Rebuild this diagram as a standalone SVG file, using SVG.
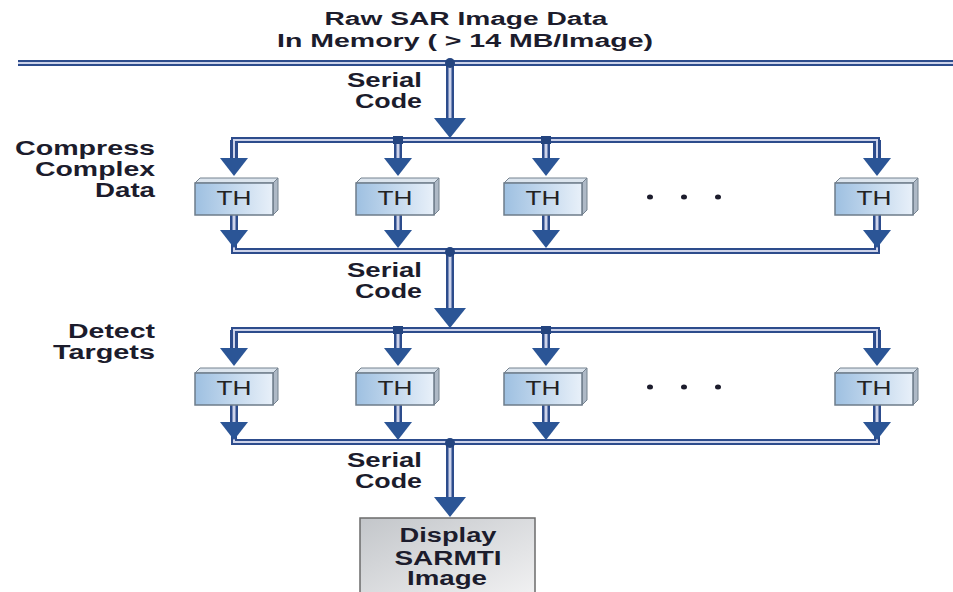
<svg xmlns="http://www.w3.org/2000/svg" xmlns:xlink="http://www.w3.org/1999/xlink" width="953" height="592" viewBox="0 0 953 592">
<style>
  .lbl { font-family: "Liberation Sans", Arial, sans-serif; font-weight: bold; font-size: 20px; fill: #1c1c2c; }
  .ttl { font-family: "Liberation Sans", Arial, sans-serif; font-weight: bold; font-size: 18px; fill: #1c1c2c; text-anchor: middle; }
  .th { font-family: "Liberation Sans", Arial, sans-serif; font-size: 20px; fill: #222; text-anchor: middle; }
  .busO { fill: none; stroke: #2d4c8c; stroke-width: 6; }
  .busI { fill: none; stroke: #cdd3ea; stroke-width: 2; }
  .shO { fill: none; stroke: #2d4c8c; stroke-width: 8; }
  .shI { fill: none; stroke: #cdd3ea; stroke-width: 3; }
  .head { fill: #2b5596; }
  .jn { fill: #24447f; }
  .dot { fill: #1c1c2c; }
</style>
<defs>
  <linearGradient id="thg" x1="0" y1="0" x2="1" y2="0">
    <stop offset="0" stop-color="#9ec0e1"/>
    <stop offset="1" stop-color="#e8f0f9"/>
  </linearGradient>
  <linearGradient id="dg" x1="0" y1="0" x2="1" y2="1">
    <stop offset="0" stop-color="#c3c6ca"/>
    <stop offset="1" stop-color="#f2f2f3"/>
  </linearGradient>
  <g id="thbox">
    <polygon points="0,0 5,-5 83,-5 78,0" fill="#dce5ee" stroke="#75828f" stroke-width="1"/>
    <polygon points="78,0 83,-5 83,27 78,32" fill="#aeb9c6" stroke="#75828f" stroke-width="1"/>
    <rect x="0" y="0" width="78" height="32" fill="url(#thg)" stroke="#6e7c8a" stroke-width="1.5"/>
  </g>
  <path id="hs" d="M-16,0 L16,0 L0,20 Z"/>
  <path id="hb" d="M-14,0 L14,0 L0,18 Z"/>
</defs>

<g id="title">
  <text class="ttl" x="466" y="25" textLength="283" lengthAdjust="spacingAndGlyphs">Raw SAR Image Data</text>
  <text class="ttl" x="465" y="47" textLength="376" lengthAdjust="spacingAndGlyphs">In Memory ( &gt; 14 MB/Image)</text>
</g>

<g id="connectors">
  <!-- main memory bus -->
  <line class="busO" x1="18" y1="63" x2="953" y2="63"/>
  <line class="busI" x1="18" y1="63" x2="953" y2="63"/>
  <!-- serial arrows -->
  <line class="shO" x1="450" y1="63" x2="450" y2="119"/>
  <line class="shI" x1="450" y1="66" x2="450" y2="119"/>
  <line class="shO" x1="450" y1="252" x2="450" y2="308"/>
  <line class="shI" x1="450" y1="255" x2="450" y2="308"/>
  <line class="shO" x1="450" y1="443" x2="450" y2="497"/>
  <line class="shI" x1="450" y1="446" x2="450" y2="497"/>

  <!-- row 1 buses -->
  <path class="busO" d="M234,159 V140 H877 V159"/>
  <path class="busO" d="M234,231 V251 H877 V231"/>
  <!-- row 2 buses -->
  <path class="busO" d="M234,349 V330 H877 V349"/>
  <path class="busO" d="M234,423 V442 H877 V423"/>
  <!-- branch shafts -->
  <g class="shO">
    <line x1="234" y1="140" x2="234" y2="159"/><line x1="398" y1="140" x2="398" y2="159"/><line x1="546" y1="140" x2="546" y2="159"/><line x1="877" y1="140" x2="877" y2="159"/>
    <line x1="234" y1="215" x2="234" y2="231"/><line x1="398" y1="215" x2="398" y2="231"/><line x1="546" y1="215" x2="546" y2="231"/><line x1="877" y1="215" x2="877" y2="231"/>
    <line x1="234" y1="330" x2="234" y2="349"/><line x1="398" y1="330" x2="398" y2="349"/><line x1="546" y1="330" x2="546" y2="349"/><line x1="877" y1="330" x2="877" y2="349"/>
    <line x1="234" y1="405" x2="234" y2="423"/><line x1="398" y1="405" x2="398" y2="423"/><line x1="546" y1="405" x2="546" y2="423"/><line x1="877" y1="405" x2="877" y2="423"/>
  </g>
  <path class="busI" d="M234,159 V140 H877 V159"/>
  <path class="busI" d="M234,231 V251 H877 V231"/>
  <path class="busI" d="M234,349 V330 H877 V349"/>
  <path class="busI" d="M234,423 V442 H877 V423"/>
  <g class="shI">
    <line x1="398" y1="142" x2="398" y2="159"/><line x1="546" y1="142" x2="546" y2="159"/>
    <line x1="234" y1="215" x2="234" y2="231"/><line x1="398" y1="215" x2="398" y2="231"/><line x1="546" y1="215" x2="546" y2="231"/><line x1="877" y1="215" x2="877" y2="231"/>
    <line x1="398" y1="332" x2="398" y2="349"/><line x1="546" y1="332" x2="546" y2="349"/>
    <line x1="234" y1="405" x2="234" y2="423"/><line x1="398" y1="405" x2="398" y2="423"/><line x1="546" y1="405" x2="546" y2="423"/><line x1="877" y1="405" x2="877" y2="423"/>
  </g>
  <!-- junctions -->
  <circle class="jn" cx="450" cy="63" r="5"/>
  <circle class="jn" cx="450" cy="252" r="5"/>
  <circle class="jn" cx="450" cy="443" r="5"/>
  <rect class="jn" x="393" y="136" width="10" height="8"/>
  <rect class="jn" x="541" y="136" width="10" height="8"/>
  <rect class="jn" x="393" y="326" width="10" height="8"/>
  <rect class="jn" x="541" y="326" width="10" height="8"/>
  <!-- heads -->
  <use href="#hs" class="head" x="450" y="118"/>
  <use href="#hs" class="head" x="450" y="308"/>
  <use href="#hs" class="head" x="450" y="497"/>
  <g class="head">
    <use href="#hb" x="234" y="158"/><use href="#hb" x="398" y="158"/><use href="#hb" x="546" y="158"/><use href="#hb" x="877" y="158"/>
    <use href="#hb" x="234" y="230"/><use href="#hb" x="398" y="230"/><use href="#hb" x="546" y="230"/><use href="#hb" x="877" y="230"/>
    <use href="#hb" x="234" y="348"/><use href="#hb" x="398" y="348"/><use href="#hb" x="546" y="348"/><use href="#hb" x="877" y="348"/>
    <use href="#hb" x="234" y="422"/><use href="#hb" x="398" y="422"/><use href="#hb" x="546" y="422"/><use href="#hb" x="877" y="422"/>
  </g>
</g>

<g id="serial-labels">
  <text class="lbl" x="422" y="87" text-anchor="end" textLength="75" lengthAdjust="spacingAndGlyphs">Serial</text>
  <text class="lbl" x="422" y="108" text-anchor="end" textLength="67" lengthAdjust="spacingAndGlyphs">Code</text>
  <text class="lbl" x="422" y="277" text-anchor="end" textLength="75" lengthAdjust="spacingAndGlyphs">Serial</text>
  <text class="lbl" x="422" y="298" text-anchor="end" textLength="67" lengthAdjust="spacingAndGlyphs">Code</text>
  <text class="lbl" x="422" y="467" text-anchor="end" textLength="75" lengthAdjust="spacingAndGlyphs">Serial</text>
  <text class="lbl" x="422" y="488" text-anchor="end" textLength="67" lengthAdjust="spacingAndGlyphs">Code</text>
</g>

<g id="stage-labels">
  <text class="lbl" x="155" y="155" text-anchor="end" textLength="140" lengthAdjust="spacingAndGlyphs">Compress</text>
  <text class="lbl" x="155" y="176" text-anchor="end" textLength="120" lengthAdjust="spacingAndGlyphs">Complex</text>
  <text class="lbl" x="155" y="197" text-anchor="end" textLength="60" lengthAdjust="spacingAndGlyphs">Data</text>
  <text class="lbl" x="155" y="338" text-anchor="end" textLength="87" lengthAdjust="spacingAndGlyphs">Detect</text>
  <text class="lbl" x="155" y="359" text-anchor="end" textLength="102" lengthAdjust="spacingAndGlyphs">Targets</text>
</g>

<g id="th1-1"><use href="#thbox" x="195" y="183"/><text class="th" x="234" y="205" textLength="35" lengthAdjust="spacingAndGlyphs">TH</text></g>
<g id="th1-2"><use href="#thbox" x="356" y="183"/><text class="th" x="395" y="205" textLength="35" lengthAdjust="spacingAndGlyphs">TH</text></g>
<g id="th1-3"><use href="#thbox" x="504" y="183"/><text class="th" x="543" y="205" textLength="35" lengthAdjust="spacingAndGlyphs">TH</text></g>
<g id="th1-5"><use href="#thbox" x="835" y="183"/><text class="th" x="874" y="205" textLength="35" lengthAdjust="spacingAndGlyphs">TH</text></g>
<g id="ellipsis1">
  <ellipse class="dot" cx="650" cy="197" rx="3" ry="2.5"/>
  <ellipse class="dot" cx="684" cy="197" rx="3" ry="2.5"/>
  <ellipse class="dot" cx="718" cy="197" rx="3" ry="2.5"/>
</g>

<g id="th2-1"><use href="#thbox" x="195" y="373"/><text class="th" x="234" y="395" textLength="35" lengthAdjust="spacingAndGlyphs">TH</text></g>
<g id="th2-2"><use href="#thbox" x="356" y="373"/><text class="th" x="395" y="395" textLength="35" lengthAdjust="spacingAndGlyphs">TH</text></g>
<g id="th2-3"><use href="#thbox" x="504" y="373"/><text class="th" x="543" y="395" textLength="35" lengthAdjust="spacingAndGlyphs">TH</text></g>
<g id="th2-5"><use href="#thbox" x="835" y="373"/><text class="th" x="874" y="395" textLength="35" lengthAdjust="spacingAndGlyphs">TH</text></g>
<g id="ellipsis2">
  <ellipse class="dot" cx="650" cy="387" rx="3" ry="2.5"/>
  <ellipse class="dot" cx="684" cy="387" rx="3" ry="2.5"/>
  <ellipse class="dot" cx="718" cy="387" rx="3" ry="2.5"/>
</g>

<g id="display">
  <rect x="360" y="518" width="175" height="80" fill="url(#dg)" stroke="#6b6b6b" stroke-width="1.5"/>
  <text class="lbl" x="448" y="542" text-anchor="middle" textLength="97" lengthAdjust="spacingAndGlyphs">Display</text>
  <text class="lbl" x="448" y="565" text-anchor="middle" textLength="107" lengthAdjust="spacingAndGlyphs">SARMTI</text>
  <text class="lbl" x="447" y="585" text-anchor="middle" textLength="80" lengthAdjust="spacingAndGlyphs">Image</text>
</g>
</svg>
